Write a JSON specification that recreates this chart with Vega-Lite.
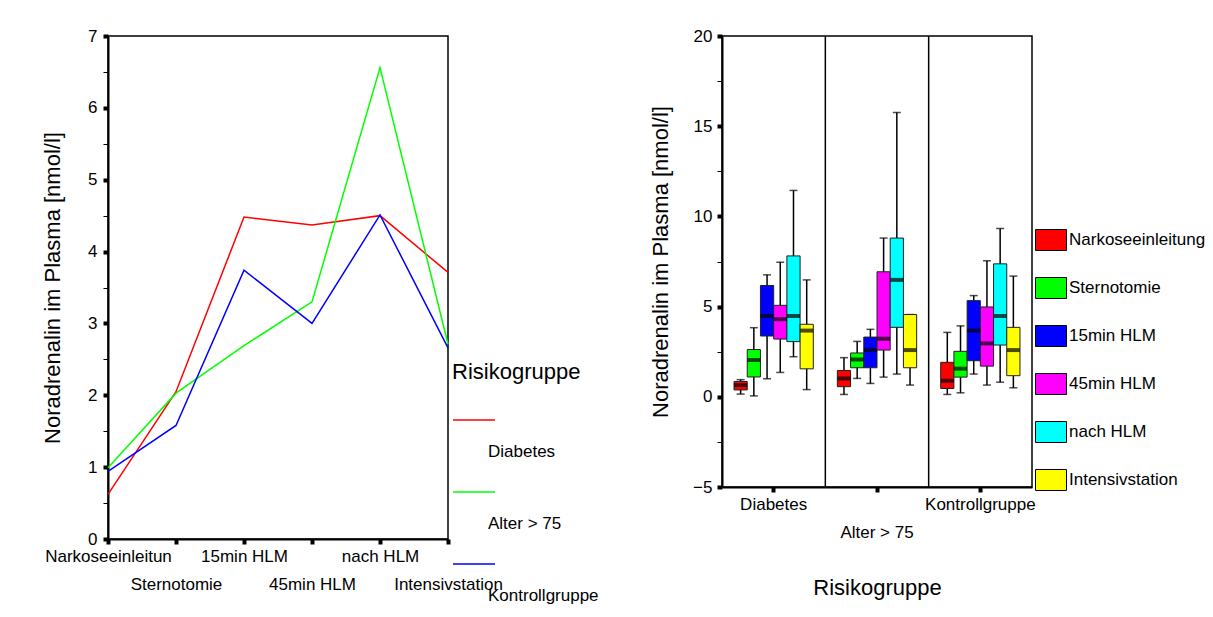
{
  "$schema": "https://vega.github.io/schema/vega-lite/v6.json",
  "background": "white",
  "padding": {"left": 40, "top": 26, "right": 0, "bottom": 0},
  "bounds": "flush",
  "spacing": 274,
  "resolve": {"scale": {"color": "independent"}, "legend": {"color": "independent"}},
  "config": {
    "font": "Liberation Sans",
    "view": {"stroke": "black", "strokeWidth": 1.5},
    "style": {"guide-label": {"lineHeight": 64}},
    "axis": {
      "domainColor": "black", "domainWidth": 2, "tickColor": "black",
      "labelColor": "black", "titleColor": "black", "grid": false,
      "labelFont": "Liberation Sans", "titleFont": "Liberation Sans",
      "labelFontSize": 17, "titleFontSize": 22, "titleFontWeight": "normal"
    },
    "legend": {"labelFont": "Liberation Sans", "titleFont": "Liberation Sans", "labelColor": "black", "titleColor": "black"}
  },
  "hconcat": [
    {
      "width": 340,
      "height": 503,
      "data": {"values": [
        {"Risikogruppe": "Diabetes", "Zeitpunkt": "Narkoseeinleitung", "Wert": 0.62},
        {"Risikogruppe": "Diabetes", "Zeitpunkt": "Sternotomie", "Wert": 2.05},
        {"Risikogruppe": "Diabetes", "Zeitpunkt": "15min HLM", "Wert": 4.48},
        {"Risikogruppe": "Diabetes", "Zeitpunkt": "45min HLM", "Wert": 4.37},
        {"Risikogruppe": "Diabetes", "Zeitpunkt": "nach HLM", "Wert": 4.5},
        {"Risikogruppe": "Diabetes", "Zeitpunkt": "Intensivstation", "Wert": 3.71},
        {"Risikogruppe": "Alter > 75", "Zeitpunkt": "Narkoseeinleitung", "Wert": 0.99},
        {"Risikogruppe": "Alter > 75", "Zeitpunkt": "Sternotomie", "Wert": 2.03},
        {"Risikogruppe": "Alter > 75", "Zeitpunkt": "15min HLM", "Wert": 2.69},
        {"Risikogruppe": "Alter > 75", "Zeitpunkt": "45min HLM", "Wert": 3.3},
        {"Risikogruppe": "Alter > 75", "Zeitpunkt": "nach HLM", "Wert": 6.56},
        {"Risikogruppe": "Alter > 75", "Zeitpunkt": "Intensivstation", "Wert": 2.71},
        {"Risikogruppe": "Kontrollgruppe", "Zeitpunkt": "Narkoseeinleitung", "Wert": 0.94},
        {"Risikogruppe": "Kontrollgruppe", "Zeitpunkt": "Sternotomie", "Wert": 1.58},
        {"Risikogruppe": "Kontrollgruppe", "Zeitpunkt": "15min HLM", "Wert": 3.74},
        {"Risikogruppe": "Kontrollgruppe", "Zeitpunkt": "45min HLM", "Wert": 3.0},
        {"Risikogruppe": "Kontrollgruppe", "Zeitpunkt": "nach HLM", "Wert": 4.51},
        {"Risikogruppe": "Kontrollgruppe", "Zeitpunkt": "Intensivstation", "Wert": 2.66}
      ]},
      "mark": {"type": "line", "strokeWidth": 1.5},
      "encoding": {
        "x": {
          "field": "Zeitpunkt", "type": "ordinal",
          "sort": ["Narkoseeinleitung", "Sternotomie", "15min HLM", "45min HLM", "nach HLM", "Intensivstation"],
          "scale": {"padding": 0},
          "axis": {
            "title": null, "labelAngle": 0, "labelAlign": "center", "tickSize": 5, "tickWidth": 4,
            "labelPadding": 4, "labelLineHeight": 28, "labelOverlap": false, "labelBaseline": "top",
            "labelExpr": "datum.value == 'Narkoseeinleitung' ? 'Narkoseeinleitun' : (indexof(['Sternotomie','45min HLM','Intensivstation'], datum.value) >= 0 ? [' ', datum.value] : datum.value)"
          }
        },
        "y": {
          "field": "Wert", "type": "quantitative",
          "scale": {"domain": [0, 7], "nice": false},
          "axis": {
            "title": "Noradrenalin im Plasma [nmol/l]",
            "values": [0, 0.5, 1, 1.5, 2, 2.5, 3, 3.5, 4, 4.5, 5, 5.5, 6, 6.5, 7],
            "labelExpr": "datum.value % 1 == 0 ? format(datum.value, 'd') : ''",
            "tickWidth": {"condition": {"test": "datum.value % 1 == 0", "value": 4}, "value": 1},
            "tickSize": 5, "labelPadding": 6, "titlePadding": 23
          }
        },
        "color": {
          "field": "Risikogruppe", "type": "nominal",
          "scale": {"domain": ["Diabetes", "Alter > 75", "Kontrollgruppe"], "range": ["#ff0000", "#00ff00", "#0000ff"]},
          "legend": {
            "orient": "none", "legendX": 344, "legendY": 326,
            "title": "Risikogruppe", "titleFontSize": 22, "titleFontWeight": "normal", "titlePadding": 14,
            "symbolType": "M-1,0L1,0", "symbolSize": 1764, "symbolStrokeWidth": 1.5,
            "labelFontSize": 17, "labelOffset": -8, "labelBaseline": "line-top",
            "rowPadding": 10, "padding": 0
          }
        }
      }
    },
    {
      "width": 310,
      "height": 451,
      "data": {"values": [
        {"Risikogruppe": "Diabetes", "Zeitpunkt": "Narkoseeinleitung", "min": 0.15, "q1": 0.38, "median": 0.65, "q3": 0.85, "max": 0.95},
        {"Risikogruppe": "Diabetes", "Zeitpunkt": "Sternotomie", "min": 0.05, "q1": 1.1, "median": 2.04, "q3": 2.62, "max": 3.83},
        {"Risikogruppe": "Diabetes", "Zeitpunkt": "15min HLM", "min": 1.0, "q1": 3.37, "median": 4.48, "q3": 6.17, "max": 6.76},
        {"Risikogruppe": "Diabetes", "Zeitpunkt": "45min HLM", "min": 1.35, "q1": 3.2, "median": 4.3, "q3": 5.07, "max": 7.46},
        {"Risikogruppe": "Diabetes", "Zeitpunkt": "nach HLM", "min": 2.22, "q1": 3.06, "median": 4.48, "q3": 7.81, "max": 11.44},
        {"Risikogruppe": "Diabetes", "Zeitpunkt": "Intensivstation", "min": 0.4, "q1": 1.55, "median": 3.67, "q3": 4.02, "max": 6.48},
        {"Risikogruppe": "Alter > 75", "Zeitpunkt": "Narkoseeinleitung", "min": 0.13, "q1": 0.56, "median": 1.02, "q3": 1.46, "max": 2.17},
        {"Risikogruppe": "Alter > 75", "Zeitpunkt": "Sternotomie", "min": 1.02, "q1": 1.61, "median": 2.07, "q3": 2.43, "max": 3.07},
        {"Risikogruppe": "Alter > 75", "Zeitpunkt": "15min HLM", "min": 0.74, "q1": 1.61, "median": 2.59, "q3": 3.31, "max": 3.74},
        {"Risikogruppe": "Alter > 75", "Zeitpunkt": "45min HLM", "min": 1.09, "q1": 2.59, "median": 3.22, "q3": 6.93, "max": 8.8},
        {"Risikogruppe": "Alter > 75", "Zeitpunkt": "nach HLM", "min": 1.26, "q1": 3.85, "median": 6.48, "q3": 8.8, "max": 15.76},
        {"Risikogruppe": "Alter > 75", "Zeitpunkt": "Intensivstation", "min": 0.65, "q1": 1.61, "median": 2.59, "q3": 4.56, "max": 4.56},
        {"Risikogruppe": "Kontrollgruppe", "Zeitpunkt": "Narkoseeinleitung", "min": 0.13, "q1": 0.46, "median": 0.89, "q3": 1.91, "max": 3.57},
        {"Risikogruppe": "Kontrollgruppe", "Zeitpunkt": "Sternotomie", "min": 0.22, "q1": 1.09, "median": 1.56, "q3": 2.52, "max": 3.93},
        {"Risikogruppe": "Kontrollgruppe", "Zeitpunkt": "15min HLM", "min": 1.26, "q1": 2.0, "median": 3.67, "q3": 5.33, "max": 5.61},
        {"Risikogruppe": "Kontrollgruppe", "Zeitpunkt": "45min HLM", "min": 0.65, "q1": 1.7, "median": 2.96, "q3": 4.98, "max": 7.54},
        {"Risikogruppe": "Kontrollgruppe", "Zeitpunkt": "nach HLM", "min": 0.81, "q1": 2.87, "median": 4.48, "q3": 7.37, "max": 9.33},
        {"Risikogruppe": "Kontrollgruppe", "Zeitpunkt": "Intensivstation", "min": 0.5, "q1": 1.17, "median": 2.59, "q3": 3.85, "max": 6.69}
      ]},
      "layer": [
        {
          "data": {"values": [{"Risikogruppe": "Alter > 75"}, {"Risikogruppe": "Kontrollgruppe"}]},
          "mark": {"type": "rule", "color": "black", "strokeWidth": 1.5},
          "encoding": {
            "x": {"field": "Risikogruppe", "type": "nominal", "bandPosition": 0,
              "scale": {"domain": ["Diabetes", "Alter > 75", "Kontrollgruppe"], "paddingInner": 0, "paddingOuter": 0}}
          }
        },
        {
          "mark": {"type": "rule", "color": "black", "strokeWidth": 1.5},
          "encoding": {
            "x": {"field": "Risikogruppe", "type": "nominal",
              "scale": {"domain": ["Diabetes", "Alter > 75", "Kontrollgruppe"], "paddingInner": 0, "paddingOuter": 0},
              "axis": {
                "title": "Risikogruppe", "titlePadding": 37, "labelAngle": 0, "labelAlign": "center", "tickSize": 5, "tickWidth": 4,
                "labelPadding": 4, "labelLineHeight": 28, "labelOverlap": false, "labelBaseline": "top",
                "labelExpr": "datum.value == 'Alter > 75' ? [' ', datum.value] : datum.value"
              }},
            "xOffset": {"field": "Zeitpunkt", "type": "nominal",
              "sort": ["Narkoseeinleitung", "Sternotomie", "15min HLM", "45min HLM", "nach HLM", "Intensivstation"],
              "scale": {"paddingInner": 0, "paddingOuter": 0.91}},
            "y": {"field": "min", "type": "quantitative",
              "scale": {"domain": [-5, 20], "nice": false},
              "axis": {
                "title": "Noradrenalin im Plasma [nmol/l]",
                "values": [-5, -2.5, 0, 2.5, 5, 7.5, 10, 12.5, 15, 17.5, 20],
                "labelExpr": "datum.value % 5 == 0 ? datum.label : ''",
                "tickWidth": {"condition": {"test": "datum.value % 5 == 0", "value": 4}, "value": 1},
                "tickSize": 5, "labelPadding": 5, "titlePadding": 20
              }},
            "y2": {"field": "max"}
          }
        },
        {
          "mark": {"type": "tick", "color": "black", "thickness": 1.5, "size": 8},
          "encoding": {
            "x": {"field": "Risikogruppe", "type": "nominal",
              "scale": {"domain": ["Diabetes", "Alter > 75", "Kontrollgruppe"], "paddingInner": 0, "paddingOuter": 0}},
            "xOffset": {"field": "Zeitpunkt", "type": "nominal",
              "sort": ["Narkoseeinleitung", "Sternotomie", "15min HLM", "45min HLM", "nach HLM", "Intensivstation"],
              "scale": {"paddingInner": 0, "paddingOuter": 0.91}},
            "y": {"field": "min", "type": "quantitative", "scale": {"domain": [-5, 20], "nice": false}}
          }
        },
        {
          "mark": {"type": "tick", "color": "black", "thickness": 1.5, "size": 8},
          "encoding": {
            "x": {"field": "Risikogruppe", "type": "nominal",
              "scale": {"domain": ["Diabetes", "Alter > 75", "Kontrollgruppe"], "paddingInner": 0, "paddingOuter": 0}},
            "xOffset": {"field": "Zeitpunkt", "type": "nominal",
              "sort": ["Narkoseeinleitung", "Sternotomie", "15min HLM", "45min HLM", "nach HLM", "Intensivstation"],
              "scale": {"paddingInner": 0, "paddingOuter": 0.91}},
            "y": {"field": "max", "type": "quantitative", "scale": {"domain": [-5, 20], "nice": false}}
          }
        },
        {
          "mark": {"type": "bar", "stroke": "#222222", "strokeWidth": 1},
          "encoding": {
            "x": {"field": "Risikogruppe", "type": "nominal",
              "scale": {"domain": ["Diabetes", "Alter > 75", "Kontrollgruppe"], "paddingInner": 0, "paddingOuter": 0}},
            "xOffset": {"field": "Zeitpunkt", "type": "nominal",
              "sort": ["Narkoseeinleitung", "Sternotomie", "15min HLM", "45min HLM", "nach HLM", "Intensivstation"],
              "scale": {"paddingInner": 0, "paddingOuter": 0.91}},
            "y": {"field": "q1", "type": "quantitative", "scale": {"domain": [-5, 20], "nice": false}},
            "y2": {"field": "q3"},
            "color": {"field": "Zeitpunkt", "type": "nominal",
              "scale": {"domain": ["Narkoseeinleitung", "Sternotomie", "15min HLM", "45min HLM", "nach HLM", "Intensivstation"],
                "range": ["#ff0000", "#00ff00", "#0000ff", "#ff00ff", "#00ffff", "#ffff00"]},
              "legend": {
                "orient": "none", "legendX": 313, "legendY": 188, "title": null,
                "symbolType": "M-1,-0.677H1V0.677H-1Z", "symbolSize": 961,
                "symbolStrokeColor": "black", "symbolStrokeWidth": 1, "symbolOpacity": 1,
                "labelFontSize": 17, "labelOffset": 2, "labelBaseline": "middle", "rowPadding": 19, "padding": 0
              }}
          }
        },
        {
          "mark": {"type": "tick", "color": "black", "thickness": 4, "size": 13},
          "encoding": {
            "x": {"field": "Risikogruppe", "type": "nominal",
              "scale": {"domain": ["Diabetes", "Alter > 75", "Kontrollgruppe"], "paddingInner": 0, "paddingOuter": 0}},
            "xOffset": {"field": "Zeitpunkt", "type": "nominal",
              "sort": ["Narkoseeinleitung", "Sternotomie", "15min HLM", "45min HLM", "nach HLM", "Intensivstation"],
              "scale": {"paddingInner": 0, "paddingOuter": 0.91}},
            "y": {"field": "median", "type": "quantitative", "scale": {"domain": [-5, 20], "nice": false}}
          }
        }
      ]
    }
  ]
}
